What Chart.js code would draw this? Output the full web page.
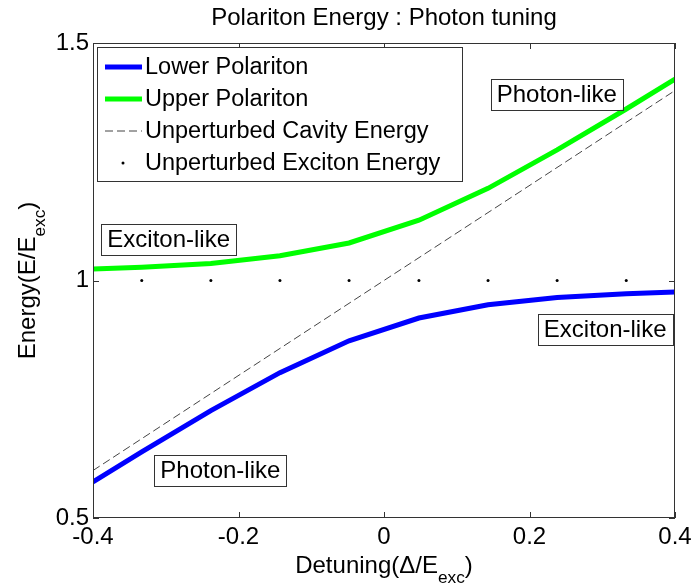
<!DOCTYPE html>
<html>
<head>
<meta charset="utf-8">
<script src="https://cdn.jsdelivr.net/npm/chart.js@4/dist/chart.umd.min.js"></script>
<style>
  html, body { margin: 0; padding: 0; background: #fff; }
  #wrap { width: 693px; height: 587px; }
</style>
</head>
<body>
<div id="wrap"><canvas id="myChart" width="693" height="587"></canvas></div>
<script>
const detuning = [-0.4, -0.333, -0.238, -0.143, -0.048, 0.048, 0.143, 0.238, 0.333, 0.4];
const lowerPol = [0.576, 0.639, 0.726, 0.806, 0.873, 0.921, 0.949, 0.964, 0.972, 0.976];
const upperPol = [1.024, 1.028, 1.036, 1.052, 1.079, 1.127, 1.194, 1.275, 1.361, 1.424];
const cavityX = [-0.4, 0.4];
const cavityE = [0.6, 1.4];
const excitonX = [-0.333, -0.238, -0.143, -0.048, 0.048, 0.143, 0.238, 0.333];
const excitonE = [1, 1, 1, 1, 1, 1, 1, 1];
const xTicks = [-0.4, -0.2, 0, 0.2, 0.4];
const yTicks = [0.5, 1, 1.5];

const FONT = '"Liberation Sans", Arial, Helvetica, sans-serif';

function pts(xs, ys) {
    return xs.map((x, i) => ({ x: x, y: ys[i] }));
}

// text boxes placed in data units (box centre)
const notes = [
    { text: 'Photon-like', x: 0.2375, y: 1.392 },
    { text: 'Exciton-like', x: -0.296, y: 1.0865 },
    { text: 'Exciton-like', x: 0.304, y: 0.8966 },
    { text: 'Photon-like', x: -0.225, y: 0.601 }
];

// draws text with a "_sub" part lowered and smaller
function drawSubText(c, parts, x, y, size) {
    let w = 0;
    parts.forEach(p => {
        c.font = (p.sub ? size * 0.72 : size) + 'px ' + FONT;
        w += c.measureText(p.t).width;
    });
    let cx = x - w / 2;
    c.textAlign = 'left';
    c.textBaseline = 'alphabetic';
    parts.forEach(p => {
        c.font = (p.sub ? size * 0.72 : size) + 'px ' + FONT;
        c.fillText(p.t, cx, p.sub ? y + size * 0.42 : y);
        cx += c.measureText(p.t).width;
    });
}

const matlabLook = {
    id: 'matlabLook',
    afterDraw(chart) {
        const c = chart.ctx;
        const a = chart.chartArea;
        const xs = chart.scales.x, ys = chart.scales.y;
        c.save();

        // box and inward ticks
        c.strokeStyle = '#333';
        c.lineWidth = 1;
        c.strokeRect(a.left + 0.5, a.top + 0.5, a.right - a.left - 1, a.bottom - a.top - 1);
        c.beginPath();
        xTicks.forEach(v => {
            const px = Math.round(xs.getPixelForValue(v)) + 0.5;
            c.moveTo(px, a.bottom); c.lineTo(px, a.bottom - 6);
            c.moveTo(px, a.top); c.lineTo(px, a.top + 6);
        });
        yTicks.forEach(v => {
            const py = Math.round(ys.getPixelForValue(v)) + 0.5;
            c.moveTo(a.left, py); c.lineTo(a.left + 6, py);
            c.moveTo(a.right, py); c.lineTo(a.right - 6, py);
        });
        c.stroke();

        // annotation boxes
        c.font = '24px ' + FONT;
        c.textAlign = 'center';
        c.textBaseline = 'middle';
        notes.forEach(n => {
            const px = xs.getPixelForValue(n.x), py = ys.getPixelForValue(n.y);
            const w = c.measureText(n.text).width + 12, h = 31;
            c.fillStyle = '#fff';
            c.fillRect(px - w / 2, py - h / 2, w, h);
            c.strokeStyle = '#333';
            c.strokeRect(Math.round(px - w / 2) + 0.5, Math.round(py - h / 2) + 0.5, Math.round(w), h);
            c.fillStyle = '#000';
            c.fillText(n.text, px, py + 1);
        });

        // legend inside the axes
        const lx = a.left + 4, ly = a.top + 4, lw = 365, lh = 134;
        c.fillStyle = '#fff';
        c.fillRect(lx, ly, lw, lh);
        c.strokeStyle = '#333';
        c.strokeRect(lx + 0.5, ly + 0.5, lw, lh);
        chart.data.datasets.forEach((ds, i) => {
            const ry = ly + 20 + i * 32;
            c.save();
            if (ds.showLine === false) {
                c.fillStyle = ds.pointBackgroundColor;
                c.beginPath();
                c.arc(lx + 26, ry, 1.5, 0, Math.PI * 2);
                c.fill();
            } else {
                c.strokeStyle = ds.borderColor;
                c.lineWidth = ds.borderWidth;
                c.setLineDash(ds.borderDash || []);
                c.beginPath();
                c.moveTo(lx + 8, ry); c.lineTo(lx + 45, ry);
                c.stroke();
            }
            c.restore();
            c.fillStyle = '#000';
            c.font = '23.5px ' + FONT;
            c.textAlign = 'left';
            c.textBaseline = 'middle';
            c.fillText(ds.label, lx + 48, ry + 1);
        });

        // title and axis titles
        c.fillStyle = '#000';
        c.font = '24px ' + FONT;
        c.textAlign = 'center';
        c.textBaseline = 'middle';
        c.fillText('Polariton Energy : Photon tuning', (a.left + a.right) / 2, 18);

        drawSubText(c, [{ t: 'Detuning(\u0394/E' }, { t: 'exc', sub: true }, { t: ')' }], (a.left + a.right) / 2, 573, 24);

        c.save();
        c.translate(35, (a.top + a.bottom) / 2);
        c.rotate(-Math.PI / 2);
        drawSubText(c, [{ t: 'Energy(E/E' }, { t: 'exc', sub: true }, { t: ')' }], 0, 0, 24);
        c.restore();

        c.restore();
    }
};

const ctx = document.getElementById('myChart');
const myChart = new Chart(ctx, {
    type: 'line',
    data: {
        datasets: [{
            label: 'Lower Polariton',
            data: pts(detuning, lowerPol),
            borderColor: '#0000ff',
            borderWidth: 5,
            pointRadius: 0,
            clip: 0
        }, {
            label: 'Upper Polariton',
            data: pts(detuning, upperPol),
            borderColor: '#00ff00',
            borderWidth: 5,
            pointRadius: 0,
            clip: 0
        }, {
            label: 'Unperturbed Cavity Energy',
            data: pts(cavityX, cavityE),
            borderColor: '#444',
            borderWidth: 1,
            borderDash: [8, 4],
            pointRadius: 0,
            clip: 0
        }, {
            label: 'Unperturbed Exciton Energy',
            data: pts(excitonX, excitonE),
            showLine: false,
            pointRadius: 1.5,
            pointBorderWidth: 0,
            pointBackgroundColor: '#000',
            pointBorderColor: '#000'
        }]
    },
    options: {
        responsive: false,
        animation: false,
        layout: { padding: { top: 43, right: 18, left: 0, bottom: 0 } },
        plugins: {
            legend: { display: false },
            tooltip: { enabled: false }
        },
        elements: { line: { tension: 0 } },
        scales: {
            x: {
                type: 'linear',
                min: -0.4,
                max: 0.4,
                afterBuildTicks: s => { s.ticks = xTicks.map(v => ({ value: v })); },
                afterFit: s => { s.height = 69; s.paddingLeft = 0; s.paddingRight = 0; },
                grid: { display: false, drawTicks: false },
                border: { display: false },
                ticks: {
                    color: '#000',
                    padding: 5,
                    maxRotation: 0,
                    font: { family: FONT, size: 24 },
                    callback: v => String(v)
                }
            },
            y: {
                type: 'linear',
                min: 0.5,
                max: 1.5,
                afterBuildTicks: s => { s.ticks = yTicks.map(v => ({ value: v })); },
                afterFit: s => { s.width = 93; s.paddingTop = 0; s.paddingBottom = 0; },
                grid: { display: false, drawTicks: false },
                border: { display: false },
                ticks: {
                    color: '#000',
                    padding: 4,
                    font: { family: FONT, size: 24 },
                    callback: v => String(v)
                }
            }
        }
    },
    plugins: [matlabLook]
});
</script>
</body>
</html>
